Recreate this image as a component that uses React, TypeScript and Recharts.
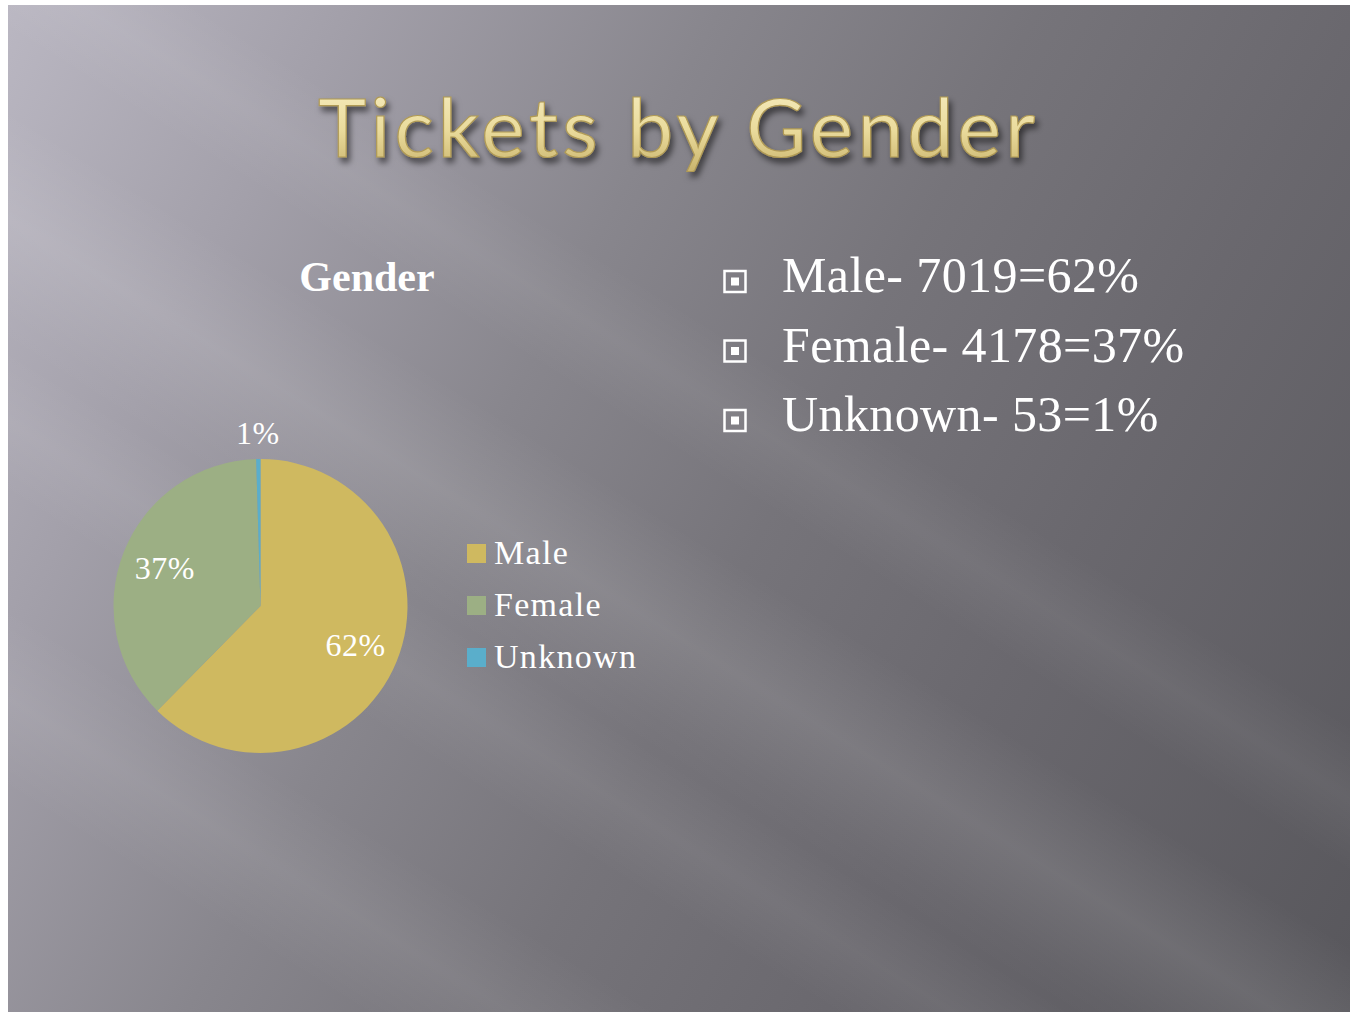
import React from "react";
import { PieChart, Pie, Cell, Legend } from "recharts";

const SLICES = ["Male", "Female", "Unknown"];
const TICKETS = [7019, 4178, 53];
const PCT_LABELS = ["62%", "37%", "1%"];
const COLORS = ["#cfb960", "#9caf84", "#5aaecb"];
const BULLETS = ["Male- 7019=62%", "Female- 4178=37%", "Unknown- 53=1%"];

const data = SLICES.map((name, i) => ({ name, value: TICKETS[i] }));

const SERIF = '"Liberation Serif", "Times New Roman", serif';
const RAD = Math.PI / 180;

const renderLabel = (props: any) => {
  const { cx, cy, midAngle, outerRadius, percent, index } = props;
  const r = percent < 0.05 ? outerRadius + 26 : outerRadius * 0.7;
  const x = cx + r * Math.cos(-midAngle * RAD);
  const y = cy + r * Math.sin(-midAngle * RAD);
  return (
    <text
      x={x}
      y={y}
      fill="#ffffff"
      fontFamily={SERIF}
      fontSize={32}
      letterSpacing={0.5}
      textAnchor="middle"
      dominantBaseline="central"
    >
      {PCT_LABELS[index]}
    </text>
  );
};

const renderLegend = (props: any) => {
  const items = [...(props.payload || [])].sort(
    (a: any, b: any) => SLICES.indexOf(a.value) - SLICES.indexOf(b.value)
  );
  return (
    <div>
      {items.map((entry: any, i: number) => (
        <div
          key={i}
          style={{ display: "flex", alignItems: "center", height: 52 }}
        >
          <span
            style={{
              display: "inline-block",
              width: 19,
              height: 19,
              background: entry.color,
              marginRight: 8,
            }}
          />
          <span
            style={{
              color: "#fff",
              fontFamily: SERIF,
              fontSize: 34,
              letterSpacing: 1.3,
            }}
          >
            {entry.value}
          </span>
        </div>
      ))}
    </div>
  );
};

const slideBg = [
  // soft diagonal light streaks
  "linear-gradient(32deg, rgba(255,255,255,0) 12%, rgba(255,255,255,0.07) 17%, rgba(255,255,255,0) 22%, rgba(255,255,255,0) 28%, rgba(255,255,255,0.06) 32%, rgba(255,255,255,0) 36%, rgba(255,255,255,0.02) 38%, rgba(255,255,255,0.1) 43%, rgba(255,255,255,0) 49%, rgba(255,255,255,0) 53%, rgba(255,255,255,0.06) 57%, rgba(255,255,255,0) 61%)",
  "linear-gradient(118deg, #bab7c2 0%, #a3a0aa 18%, #88868d 38%, #76747a 55%, #6a686e 72%, #58575c 100%)",
].join(", ");

export default function App() {
  return (
    <div
      style={{
        position: "relative",
        width: 1353,
        height: 1012,
        background: "#ffffff",
        overflow: "hidden",
      }}
    >
      <style>{`body{margin:0}`}</style>
      <div
        style={{
          position: "absolute",
          left: 8,
          top: 5,
          width: 1342,
          height: 1007,
          background: slideBg,
        }}
      />
      <svg
        width={1353}
        height={1012}
        style={{ position: "absolute", left: 0, top: 0 }}
      >
        <defs>
          <linearGradient id="gold" x1="0" y1="0" x2="0" y2="1">
            <stop offset="0%" stopColor="#f8efc4" />
            <stop offset="55%" stopColor="#eadb9c" />
            <stop offset="100%" stopColor="#c8b26a" />
          </linearGradient>
          <filter id="shadow" x="-10%" y="-30%" width="120%" height="160%">
            <feDropShadow
              dx="3"
              dy="5"
              stdDeviation="3"
              floodColor="#000"
              floodOpacity="0.55"
            />
          </filter>
        </defs>
        <text
          x={318}
          y={157}
          textLength={717}
          lengthAdjust="spacing"
          fontFamily='Lato, "Open Sans", sans-serif'
          fontSize={82}
          fill="url(#gold)"
          stroke="#b09a55"
          strokeWidth={1.2}
          filter="url(#shadow)"
        >
          Tickets by Gender
        </text>
        <text
          x={367}
          y={291}
          textAnchor="middle"
          fontFamily={SERIF}
          fontWeight="bold"
          fontSize={42}
          fill="#ffffff"
        >
          Gender
        </text>
        {BULLETS.map((t, i) => (
          <g key={t}>
            <rect
              x={724.5}
              y={271 + i * 69.5}
              width={21}
              height={21}
              fill="none"
              stroke="#ffffff"
              strokeWidth={2.5}
            />
            <rect
              x={731}
              y={277.5 + i * 69.5}
              width={8}
              height={8}
              fill="#ffffff"
            />
            <text
              x={782}
              y={292 + i * 69.5}
              fontFamily={SERIF}
              fontSize={50}
              letterSpacing={0.4}
              fill="#ffffff"
            >
              {t}
            </text>
          </g>
        ))}
      </svg>
      <div style={{ position: "absolute", left: 0, top: 0 }}>
        <PieChart
          width={1353}
          height={1012}
          margin={{ top: 0, right: 0, bottom: 0, left: 0 }}
        >
          <Pie
            data={data}
            dataKey="value"
            nameKey="name"
            cx={260.5}
            cy={606}
            outerRadius={147}
            startAngle={90}
            endAngle={-270}
            stroke="none"
            label={renderLabel}
            labelLine={false}
            isAnimationActive={false}
          >
            {data.map((_, i) => (
              <Cell key={i} fill={COLORS[i]} />
            ))}
          </Pie>
          <Legend
            layout="horizontal"
            verticalAlign="middle"
            align="center"
            wrapperStyle={{ left: 467, top: 527, width: 240 }}
            content={renderLegend}
          />
        </PieChart>
      </div>
    </div>
  );
}
